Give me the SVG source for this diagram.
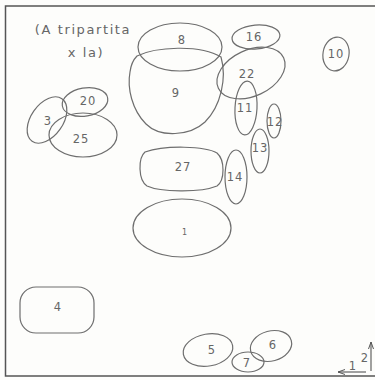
<svg xmlns="http://www.w3.org/2000/svg" width="375" height="380" viewBox="0 0 375 380">
<style>
.s{fill:none;stroke:#6e6e6e;stroke-width:1.2}
.t{font-family:"DejaVu Sans","Liberation Sans",sans-serif;font-size:11.5px;fill:#666;text-anchor:middle;dominant-baseline:central;letter-spacing:1px}
.f{stroke:#555;stroke-width:1.5;fill:none}
</style>
<defs>
<marker id="ah" markerWidth="8" markerHeight="8" refX="7" refY="4" orient="auto" markerUnits="userSpaceOnUse">
<path d="M0,1.5 L7,4 L0,6.5" fill="none" stroke="#555" stroke-width="1"/>
</marker>
</defs>
<rect width="375" height="380" fill="#fdfdfb"/>
<g id="frame">
<path class="f" d="M375,6 H5.5 V376 H375"/>
</g>
<g id="title">
<text class="t" x="83" y="29" font-size="13" style="font-size:13px;letter-spacing:1.6px">(A tripartita</text>
<text class="t" x="86" y="52" style="font-size:13px;letter-spacing:1.6px">x la)</text>
</g>
<g id="n8"><ellipse class="s" cx="180" cy="47" rx="42" ry="24"/><text class="t" x="182" y="40">8</text></g>
<g id="n9"><path class="s" d="M137,56 C155,47 200,44 221,57 C227,78 221,106 205,122 C190,136 160,138 146,124 C132,110 127,88 130,72 C131,64 134,59 137,56 Z"/><text class="t" x="176" y="93">9</text></g>
<g id="n16"><ellipse class="s" cx="256" cy="37" rx="24" ry="12" transform="rotate(-5 256 37)"/><text class="t" x="254" y="37">16</text></g>
<g id="n22"><ellipse class="s" cx="251" cy="73" rx="36" ry="23" transform="rotate(-25 251 73)"/><text class="t" x="247" y="74">22</text></g>
<g id="n10"><ellipse class="s" cx="336" cy="54" rx="13" ry="17" transform="rotate(10 336 54)"/><text class="t" x="336" y="54">10</text></g>
<g id="n11"><ellipse class="s" cx="246" cy="108" rx="11" ry="27" transform="rotate(3 246 108)"/><text class="t" x="245" y="108">11</text></g>
<g id="n12"><ellipse class="s" cx="274" cy="121" rx="7" ry="17"/><text class="t" x="275" y="122">12</text></g>
<g id="n13"><ellipse class="s" cx="260" cy="151" rx="9" ry="22"/><text class="t" x="260" y="148">13</text></g>
<g id="n14"><ellipse class="s" cx="236" cy="177" rx="11" ry="27"/><text class="t" x="235" y="177">14</text></g>
<g id="n20"><ellipse class="s" cx="85" cy="102" rx="23" ry="14" transform="rotate(-10 85 102)"/><text class="t" x="88" y="101">20</text></g>
<g id="n3"><ellipse class="s" cx="47" cy="120" rx="16" ry="26" transform="rotate(35 47 120)"/><text class="t" x="48" y="121">3</text></g>
<g id="n25"><ellipse class="s" cx="83" cy="135" rx="34" ry="22"/><text class="t" x="81" y="139">25</text></g>
<g id="n27"><path class="s" d="M145,152 C165,145 205,146 217,153 C225,160 225,180 217,186 C200,193 160,192 147,186 C138,180 138,158 145,152 Z"/><text class="t" x="183" y="167">27</text></g>
<g id="n1"><ellipse class="s" cx="182" cy="228" rx="49" ry="29"/><text class="t" x="185" y="232" style="font-size:8px">1</text></g>
<g id="n4"><rect class="s" x="20" y="287" width="74" height="46" rx="16"/><text class="t" x="58" y="307">4</text></g>
<g id="n5"><ellipse class="s" cx="208" cy="350" rx="25" ry="16" transform="rotate(-10 208 350)"/><text class="t" x="212" y="350">5</text></g>
<g id="n7"><ellipse class="s" cx="248" cy="362" rx="16" ry="10"/><text class="t" x="247" y="363">7</text></g>
<g id="n6"><ellipse class="s" cx="271" cy="346" rx="21" ry="15" transform="rotate(-15 271 346)"/><text class="t" x="273" y="345">6</text></g>
<g id="connectors">
<line x1="371" y1="371" x2="371" y2="342" stroke="#555" stroke-width="1.1" marker-end="url(#ah)"/>
<line x1="366" y1="372" x2="338" y2="372" stroke="#555" stroke-width="1.1" marker-end="url(#ah)"/>
</g>
<text class="t" x="365" y="358">2</text>
<text class="t" x="353" y="366">1</text>
</svg>
